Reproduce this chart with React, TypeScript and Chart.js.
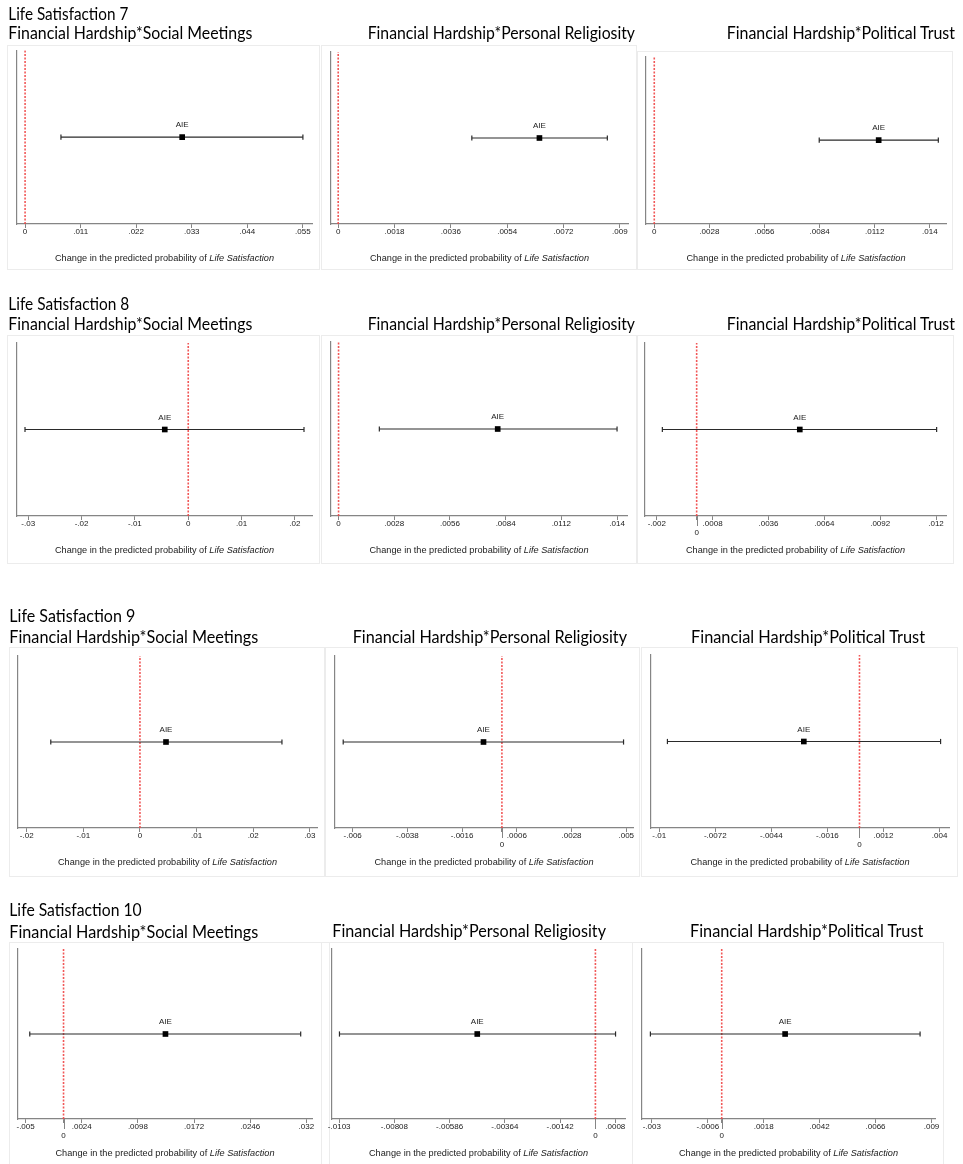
import React, { useEffect, useRef } from "react";
import { Chart, registerables } from "chart.js";

Chart.register(...registerables);

// ---------------- DATA ----------------
const outcomes = ["Life Satisfaction 7", "Life Satisfaction 8", "Life Satisfaction 9", "Life Satisfaction 10"];
const moderators = [
  "Financial Hardship*Social Meetings",
  "Financial Hardship*Personal Religiosity",
  "Financial Hardship*Political Trust",
];
const effectLabel = "AIE";
const axisTitleMain = "Change in the predicted probability of ";
const axisTitleItalic = "Life Satisfaction";

// panel order: LS7 (SM, PR, PT), LS8 (SM, PR, PT), LS9 (...), LS10 (...)
const estimates = [0.0311, 0.00643, 0.0114, -0.0044, 0.008, 0.00517, 0.0046, -0.00074, -0.00278, 0.01343, -0.00475, 0.00272];
const ciLower = [0.0071, 0.00427, 0.00838, -0.0306, 0.00205, -0.00172, -0.01575, -0.00638, -0.00959, -0.00445, -0.01029, -0.00306];
const ciUpper = [0.055, 0.0086, 0.01443, 0.0217, 0.014, 0.01203, 0.02508, 0.00489, 0.00405, 0.03125, 0.00081, 0.00851];
const axisMin = [-0.0016, -0.00023, -0.00042, -0.0321, -0.00038, -0.00259, -0.02154, -0.00671, -0.01041, -0.006, -0.01059, -0.00342];
const axisMax = [0.0568, 0.00926, 0.01482, 0.0232, 0.0145, 0.0125, 0.03127, 0.00527, 0.00447, 0.03274, 0.00119, 0.00915];

const tickValues = [
  [0, 0.011, 0.022, 0.033, 0.044, 0.055],
  [0, 0.0018, 0.0036, 0.0054, 0.0072, 0.009],
  [0, 0.0028, 0.0056, 0.0084, 0.0112, 0.014],
  [-0.03, -0.02, -0.01, 0, 0.01, 0.02],
  [0, 0.0028, 0.0056, 0.0084, 0.0112, 0.014],
  [-0.002, 0, 0.0008, 0.0036, 0.0064, 0.0092, 0.012],
  [-0.02, -0.01, 0, 0.01, 0.02, 0.03],
  [-0.006, -0.0038, -0.0016, 0, 0.0006, 0.0028, 0.005],
  [-0.01, -0.0072, -0.0044, -0.0016, 0, 0.0012, 0.004],
  [-0.005, 0, 0.0024, 0.0098, 0.0172, 0.0246, 0.032],
  [-0.0103, -0.00808, -0.00586, -0.00364, -0.00142, 0, 0.0008],
  [-0.003, -0.0006, 0, 0.0018, 0.0042, 0.0066, 0.009],
];
const tickLabels = [
  ["0", ".011", ".022", ".033", ".044", ".055"],
  ["0", ".0018", ".0036", ".0054", ".0072", ".009"],
  ["0", ".0028", ".0056", ".0084", ".0112", ".014"],
  ["-.03", "-.02", "-.01", "0", ".01", ".02"],
  ["0", ".0028", ".0056", ".0084", ".0112", ".014"],
  ["-.002", "0", ".0008", ".0036", ".0064", ".0092", ".012"],
  ["-.02", "-.01", "0", ".01", ".02", ".03"],
  ["-.006", "-.0038", "-.0016", "0", ".0006", ".0028", ".005"],
  ["-.01", "-.0072", "-.0044", "-.0016", "0", ".0012", ".004"],
  ["-.005", "0", ".0024", ".0098", ".0172", ".0246", ".032"],
  ["-.0103", "-.00808", "-.00586", "-.00364", "-.00142", "0", ".0008"],
  ["-.003", "-.0006", "0", ".0018", ".0042", ".0066", ".009"],
];
const zeroBelow = [false, false, false, false, false, true, false, true, true, true, true, true];

// ---------------- LAYOUT ----------------
const boxes = [
  { x: 7, y: 45, w: 313, h: 225 },
  { x: 321, y: 45, w: 316, h: 225 },
  { x: 637, y: 51, w: 316, h: 219 },
  { x: 7, y: 335, w: 313, h: 229 },
  { x: 321, y: 335, w: 316, h: 229 },
  { x: 637, y: 335, w: 317, h: 229 },
  { x: 9, y: 647, w: 316, h: 230 },
  { x: 325, y: 647, w: 315, h: 230 },
  { x: 641, y: 647, w: 317, h: 230 },
  { x: 9, y: 942, w: 321, h: 226 },
  { x: 321, y: 942, w: 312, h: 226 },
  { x: 632, y: 942, w: 312, h: 226 },
];
const plots = [
  { l: 17, t: 50, r: 312, b: 224 },
  { l: 331, t: 52, r: 628, b: 224 },
  { l: 646, t: 53, r: 946, b: 224 },
  { l: 17, t: 343, r: 312, b: 516 },
  { l: 331, t: 342, r: 627, b: 516 },
  { l: 645, t: 343, r: 946, b: 516 },
  { l: 18, t: 656, r: 317, b: 828 },
  { l: 335, t: 656, r: 633, b: 828 },
  { l: 651, t: 655, r: 949, b: 828 },
  { l: 18, t: 949, r: 312, b: 1119 },
  { l: 332, t: 949, r: 625, b: 1119 },
  { l: 642, t: 949, r: 935, b: 1119 },
];
const headerRows = [
  { outcome: { x: 8.3, y: 19.5, w: 120 }, mods: [{ x: 8.3, y: 39.3, w: 244 }, { x: 367.7, y: 39.3, w: 267.3 }, { x: 726.7, y: 39.3, w: 228.3 }] },
  { outcome: { x: 8.3, y: 310, w: 121 }, mods: [{ x: 8.3, y: 330, w: 244 }, { x: 367.7, y: 330, w: 267.3 }, { x: 726.7, y: 330, w: 228.3 }] },
  { outcome: { x: 9.3, y: 621.7, w: 126 }, mods: [{ x: 9.3, y: 642.7, w: 249 }, { x: 352.7, y: 643.3, w: 274.3 }, { x: 691, y: 643.3, w: 234 }] },
  { outcome: { x: 9.3, y: 916, w: 132.4 }, mods: [{ x: 9.3, y: 937.7, w: 249 }, { x: 332.3, y: 936.7, w: 273.7 }, { x: 690, y: 936.7, w: 233.3 }] },
];

const SANS = "'Liberation Sans', Arial, Helvetica, sans-serif";
const AXIS_GREY = "#858585";
const XH = 24;

function Panel({ i }: { i: number }) {
  const ref = useRef<HTMLCanvasElement>(null);
  const box = boxes[i];
  useEffect(() => {
    const canvas = ref.current;
    if (!canvas) return;
    const plot = plots[i];
    const overlay = {
      id: "overlay" + i,
      afterDatasetsDraw(chart: any) {
        const meta = chart.getDatasetMeta(0);
        const pt = meta.data[0];
        const ctx = chart.ctx;
        ctx.save();
        if (pt) {
          ctx.font = `8px ${SANS}`;
          ctx.fillStyle = "#1a1a1a";
          ctx.textAlign = "center";
          ctx.textBaseline = "middle";
          ctx.fillText(effectLabel, pt.x, pt.y - 12);
        }
        if (zeroBelow[i]) {
          const x = Math.round(chart.scales.x.getPixelForValue(0)) + 0.5;
          const y0 = chart.chartArea.bottom;
          ctx.strokeStyle = AXIS_GREY;
          ctx.lineWidth = 1;
          ctx.beginPath();
          ctx.moveTo(x, y0);
          ctx.lineTo(x, y0 + 10);
          ctx.stroke();
        }
        ctx.restore();
      },
    };
    const chart = new Chart(canvas, {
      type: "scatter",
      data: {
        datasets: [
          {
            data: [{ x: estimates[i], y: 1 }],
            showLine: false,
            pointStyle: "rect",
            pointRadius: 4,
            pointBackgroundColor: "#000",
            pointBorderColor: "#000",
            pointBorderWidth: 0,
          },
          {
            data: [
              { x: ciLower[i], y: 1 },
              { x: ciUpper[i], y: 1 },
            ],
            showLine: true,
            borderColor: "#2a2a2a",
            borderWidth: 1.2,
            pointStyle: "line",
            pointRotation: 90,
            pointRadius: 2.6,
            pointBorderColor: "#2a2a2a",
            pointBorderWidth: 1.2,
          },
          {
            data: [
              { x: 0, y: 0 },
              { x: 0, y: 2 },
            ],
            showLine: true,
            borderColor: "rgba(240,70,70,0.9)",
            borderWidth: 1.6,
            borderDash: [2, 1.5],
            pointRadius: 0,
          },
        ],
      } as any,
      options: {
        animation: false,
        responsive: false,
        maintainAspectRatio: false,
        devicePixelRatio: 1,
        events: [],
        layout: {
          padding: {
            left: plot.l - box.x,
            top: plot.t - box.y,
            right: box.x + box.w - plot.r,
            bottom: box.y + box.h - plot.b - XH,
          },
        },
        plugins: { legend: { display: false }, tooltip: { enabled: false }, title: { display: false } },
        scales: {
          x: {
            type: "linear",
            min: axisMin[i],
            max: axisMax[i],
            afterBuildTicks: (s: any) => {
              s.ticks = tickValues[i].map((v) => ({ value: v }));
            },
            afterFit: (s: any) => {
              s.height = XH;
            },
            ticks: {
              autoSkip: false,
              maxRotation: 0,
              minRotation: 0,
              padding: 0,
              color: "#1a1a1a",
              font: { family: SANS, size: 8, lineHeight: 1.05 },
              callback: (_v: any, idx: number) => {
                const lab = tickLabels[i][idx];
                return zeroBelow[i] && lab === "0" ? ["", lab] : lab;
              },
            },
            grid: { display: true, drawOnChartArea: false, drawTicks: true, tickLength: 4, color: AXIS_GREY, lineWidth: 1 },
            border: { display: true, color: AXIS_GREY, width: 1.2 },
          },
          y: {
            type: "linear",
            min: 0,
            max: 2,
            afterFit: (s: any) => {
              s.width = 0;
            },
            ticks: { display: false },
            grid: { display: true, drawOnChartArea: false, drawTicks: false },
            border: { display: true, color: AXIS_GREY, width: 1.2 },
          },
        },
      } as any,
      plugins: [overlay],
    });
    return () => chart.destroy();
  }, [i]);

  return (
    <>
      <div
        style={{
          position: "absolute",
          left: box.x,
          top: box.y,
          width: box.w,
          height: box.h,
          boxSizing: "border-box",
          border: "1px solid #ececec",
        }}
      />
      <canvas
        ref={ref}
        width={box.w}
        height={box.h}
        style={{ position: "absolute", left: box.x, top: box.y, width: box.w, height: box.h }}
      />
    </>
  );
}

export default function App() {
  return (
    <div
      style={{
        position: "absolute",
        left: 0,
        top: 0,
        width: 963,
        height: 1164,
        background: "#fff",
        overflow: "hidden",
      }}
    >
      {plots.map((_, i) => (
        <Panel key={i} i={i} />
      ))}
      <svg
        width={963}
        height={1164}
        style={{ position: "absolute", left: 0, top: 0, pointerEvents: "none" }}
      >
        {headerRows.map((row, r) => (
          <g key={r} fontFamily="Lato, 'Open Sans', sans-serif" fontSize={17} fill="#000">
            <text x={row.outcome.x} y={row.outcome.y} textLength={row.outcome.w} lengthAdjust="spacingAndGlyphs">
              {outcomes[r]}
            </text>
            {row.mods.map((m, c) => (
              <text key={c} x={m.x} y={m.y} textLength={m.w} lengthAdjust="spacingAndGlyphs">
                {moderators[c]}
              </text>
            ))}
          </g>
        ))}
        {plots.map((p, i) => (
          <text
            key={"t" + i}
            x={(p.l + p.r) / 2 - 109.5}
            y={p.b + 36.8}
            textLength={219}
            lengthAdjust="spacingAndGlyphs"
            fontFamily={SANS}
            fontSize={9.5}
            fill="#1a1a1a"
          >
            {axisTitleMain}
            <tspan fontStyle="italic">{axisTitleItalic}</tspan>
          </text>
        ))}
      </svg>
    </div>
  );
}
